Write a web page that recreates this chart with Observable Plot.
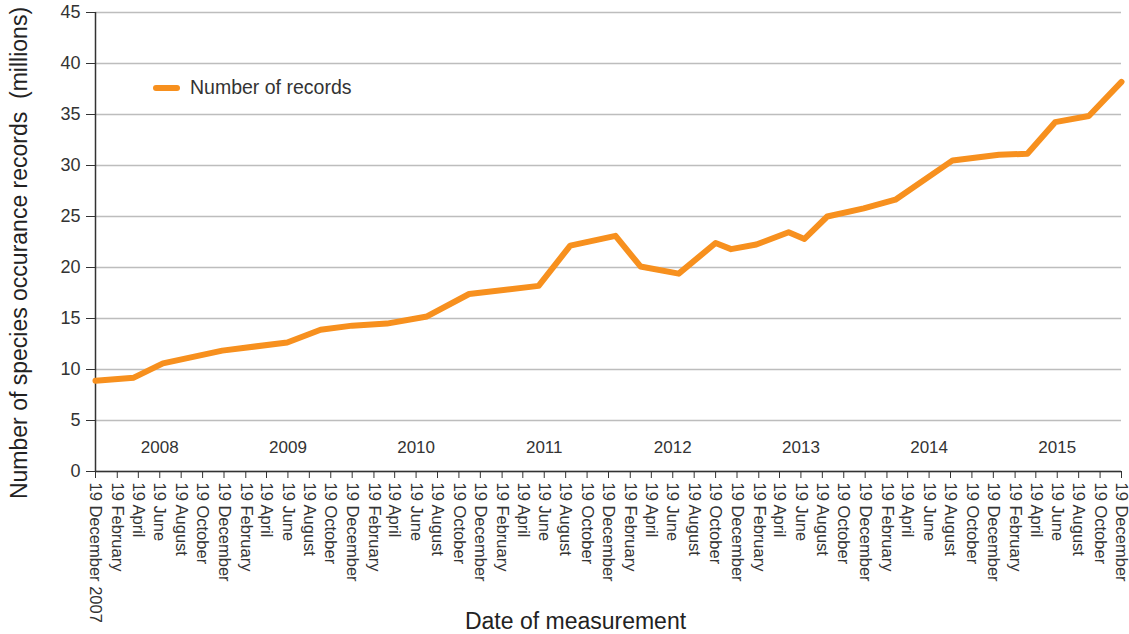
<!DOCTYPE html>
<html>
<head>
<meta charset="utf-8">
<script src="https://cdn.jsdelivr.net/npm/d3@7"></script>
<script src="https://cdn.jsdelivr.net/npm/@observablehq/plot@0.6"></script>
<style>
  body { margin: 0; background: #fff; }
  #wrap { position: relative; width: 1129px; height: 634px; font-family: "Liberation Sans", Arial, sans-serif; }
  #legend { position: absolute; left: 153px; top: 76px; display: flex; align-items: center; font-size: 19.5px; color: #333; }
  #legend .sw { width: 27px; height: 6px; border-radius: 3px; background: #F7901E; margin-right: 10px; }
</style>
</head>
<body>
<div id="wrap">
  <div id="legend"><span class="sw"></span><span>Number of records</span></div>
</div>
<script>
const dates = ["2007-12-19","2008-04-06","2008-06-28","2008-12-14","2009-06-17","2009-09-20","2009-12-19",
  "2010-03-28","2010-07-20","2010-11-17","2011-06-03","2011-09-01","2012-01-08","2012-03-19","2012-07-06",
  "2012-10-19","2012-12-02","2013-02-12","2013-05-15","2013-06-29","2013-09-02","2013-12-15","2014-03-15",
  "2014-08-25","2015-01-04","2015-03-26","2015-06-13","2015-09-17","2015-12-19"];
const records = [8.9, 9.2, 10.6, 11.85, 12.65, 13.9, 14.3, 14.5, 15.2, 17.4, 18.2, 22.15, 23.1, 20.1, 19.4,
  22.4, 21.8, 22.25, 23.45, 22.8, 25.0, 25.8, 26.65, 30.5, 31.05, 31.15, 34.25, 34.85, 38.2];

// Tick labels
const firstTickLabel = "19 December 2007";
const tickMonths = ["February", "April", "June", "August", "October", "December"];
const tickYears = [2008, 2009, 2010, 2011, 2012, 2013, 2014, 2015];
const yearLabels = ["2008", "2009", "2010", "2011", "2012", "2013", "2014", "2015"];
const yTicks = [0, 5, 10, 15, 20, 25, 30, 35, 40, 45];

const data = dates.map((d, i) => ({date: new Date(d + "T00:00:00Z"), value: records[i]}));

const start = new Date(Date.UTC(2007, 11, 19));
const end = new Date(Date.UTC(2015, 11, 19));
const tickDates = [start];
const tickLabels = [firstTickLabel];
tickYears.forEach((y) => tickMonths.forEach((m, mi) => {
  tickDates.push(new Date(Date.UTC(y, 1 + 2 * mi, 19)));
  tickLabels.push("19 " + m);
}));
const labelMap = new Map(tickDates.map((d, i) => [+d, tickLabels[i]]));
const yearData = yearLabels.map(y => ({label: y, date: new Date(Date.UTC(+y, 5, 19))}));

const ink = "#333";
const chart = Plot.plot({
  width: 1129,
  height: 634,
  marginLeft: 95,
  marginRight: 8,
  marginTop: 12,
  marginBottom: 163,
  style: {fontFamily: "'Liberation Sans', Arial, sans-serif", color: ink, background: "#fff", overflow: "visible"},
  x: {type: "utc", domain: [start, end]},
  y: {domain: [0, 45]},
  marks: [
    Plot.gridY(yTicks, {stroke: "#bdbdbd", strokeOpacity: 1, strokeWidth: 1.5}),
    Plot.axisY({ticks: yTicks, tickSize: 9, tickPadding: 6, fontSize: 18, label: null, stroke: ink, fill: ink}),
    Plot.axisX({ticks: tickDates, tickFormat: d => labelMap.get(+d), tickRotate: 90, tickSize: 7, tickPadding: 4,
      fontSize: 16.5, label: null, stroke: ink, fill: ink}),
    Plot.ruleX([start], {y1: 0, y2: 45, stroke: ink, strokeWidth: 1.5}),
    Plot.ruleY([0], {stroke: ink, strokeWidth: 1.5}),
    Plot.text(yearData, {x: "date", text: "label", frameAnchor: "bottom", dy: -19, fontSize: 17, fill: ink}),
    Plot.line(data, {x: "date", y: "value", stroke: "#F7901E", strokeWidth: 6, strokeLinejoin: "round", strokeLinecap: "round"}),
    Plot.text(["Number of species occurance records\u00a0 (millions)"], {frameAnchor: "left", textAnchor: "middle", rotate: -90, dx: -76, dy: 11, fontSize: 23, fill: "#222"}),
    Plot.text(["Date of measurement"], {frameAnchor: "bottom", textAnchor: "middle", dx: -33, dy: 157, fontSize: 23, fill: "#222"})
  ]
});
document.getElementById("wrap").prepend(chart);
</script>
</body>
</html>
